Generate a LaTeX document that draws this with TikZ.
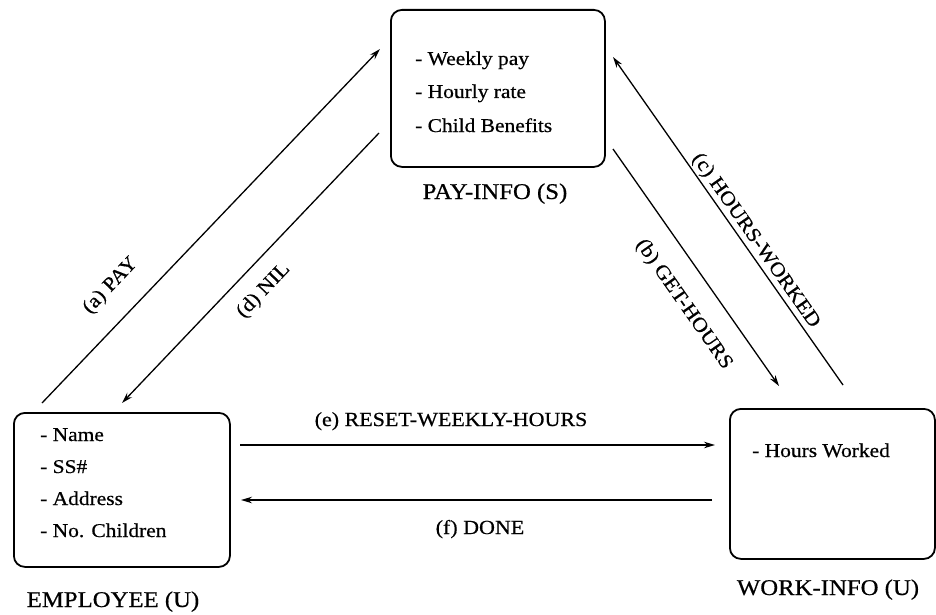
\documentclass[tikz,border=0pt]{standalone}
\usepackage{fontspec}
\setmainfont{Liberation Serif}[FakeStretch=1.1, FakeBold=0.6]
\usetikzlibrary{arrows.meta}
\begin{document}
\begin{tikzpicture}[x=1pt,y=-1pt,
  box/.style={draw, line width=1.8pt, rounded corners=11pt, inner sep=0pt, anchor=north west},
  item/.style={anchor=base west, inner sep=0pt, font=\fontsize{19.5}{19.5}\selectfont},
  title/.style={anchor=base, inner sep=0pt, font=\fontsize{22.5}{22.5}\selectfont},
  msg/.style={draw, line width=1.3pt, -{Stealth[length=11pt,width=6.5pt]}},
  lbl/.style={inner sep=0pt, font=\fontsize{20}{20}\selectfont}]
\useasboundingbox (0,0) rectangle (936,615);

% the three objects
\node[box, minimum width=214pt, minimum height=157pt] (pay) at (390,9) {};
\node[box, minimum width=216pt, minimum height=154pt] (emp) at (13,412) {};
\node[box, minimum width=205pt, minimum height=150pt] (work) at (729,408) {};

% attributes
\node[item] (p1) at (415,65) {- Weekly pay};
\node[item] (p2) at (415,98) {- Hourly rate};
\node[item] (p3) at (415,132) {- Child Benefits};
\node[item] (e1) at (40,441) {- Name};
\node[item] (e2) at (40,473) {- SS\#};
\node[item] (e3) at (40,505) {- Address};
\node[item] (e4) at (40,537) {- No. Children};
\node[item] (w1) at (752,457) {- Hours Worked};

% object names
\node[title] (payname) at (495,199) {PAY-INFO (S)};
\node[title] (empname) at (113,607) {EMPLOYEE (U)};
\node[title] (workname) at (828,595) {WORK-INFO (U)};

% message end points
\coordinate (a0) at (42,403);   \coordinate (a1) at (380,49);
\coordinate (d0) at (379,133);  \coordinate (d1) at (122,403);
\coordinate (b0) at (613,149);  \coordinate (b1) at (779,386);
\coordinate (c0) at (843,385);  \coordinate (c1) at (613,57);
\coordinate (e0) at (240,445);  \coordinate (e1) at (715,445);
\coordinate (f0) at (712,500);  \coordinate (f1) at (241,500);

% messages
\draw[msg] (a0) -- (a1);
\draw[msg] (d0) -- (d1);
\draw[msg] (b0) -- (b1);
\draw[msg] (c0) -- (c1);
\draw[msg] (e0) -- (e1);
\draw[msg] (f0) -- (f1);

% message labels
\path (a0) -- (a1) node[lbl, pos=0.27, sloped, above=22pt] (la) {(a) PAY};
\path (d1) -- (d0) node[lbl, pos=0.48, sloped, below=16pt] (ld) {(d) NIL};
\path (b0) -- (b1) node[lbl, pos=0.58, sloped, below=22pt] (lb) {(b) GET-HOURS};
\path (c1) -- (c0) node[lbl, pos=0.58, sloped, above=2pt] (lc) {(c) HOURS-WORKED};
\node[lbl, anchor=base] (le) at (451,426) {(e) RESET-WEEKLY-HOURS};
\node[lbl, anchor=base] (lf) at (480,534) {(f) DONE};
\end{tikzpicture}
\end{document}
